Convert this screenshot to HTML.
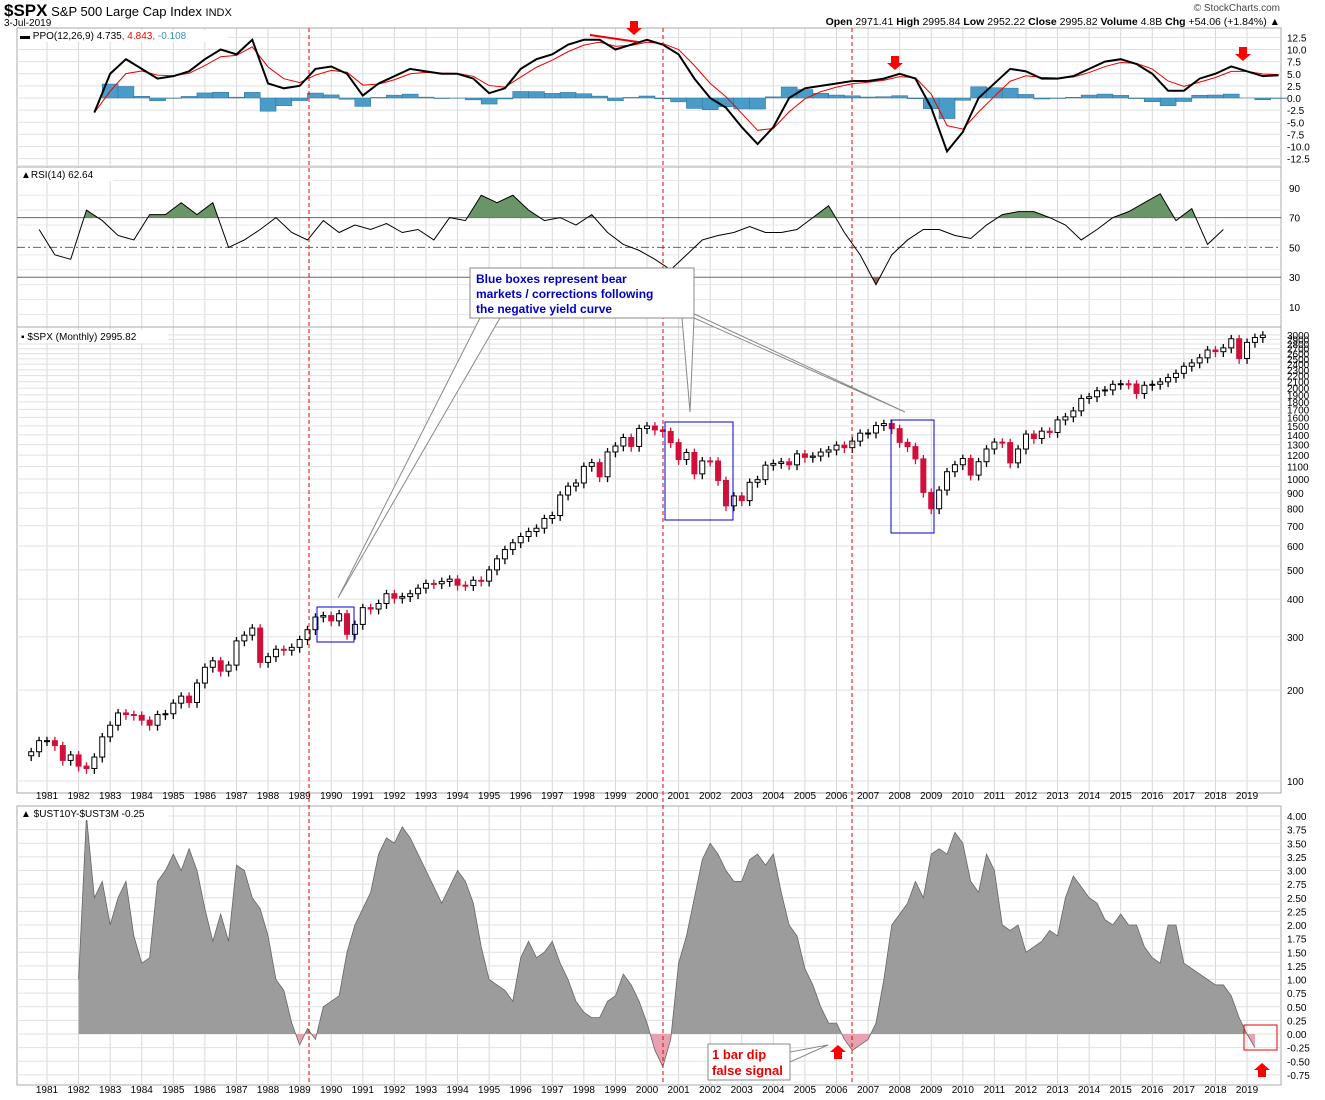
<!DOCTYPE html>
<html><head><meta charset="utf-8"><style>
body{margin:0;background:#fff;width:1325px;height:1100px;overflow:hidden;font-family:"Liberation Sans",sans-serif}
svg{display:block}
text{font-family:"Liberation Sans",sans-serif}
</style></head><body>
<svg id="c" width="1325" height="1100"></svg>
<script>
// ---- data ----
const priceStart = 1980.5; // quarterly closes
const spxCloses = [125,136, 136,131,117,122, 112,110,120,140, 153,168,166,165, 159,153,166,167, 181,191,182,211, 238,250,231,242, 291,304,321,247, 258,273,271,277, 294,317,349,353, 339,358,306,330, 375,371,387,417, 403,408,417,435, 451,450,458,466, 445,444,462,459, 500,544,584,615, 645,670,687,740, 757,885,947,970, 1101,1133,1017,1229, 1286,1372,1282,1469, 1498,1454,1436,1320, 1160,1224,1040,1148, 1147,989,815,879, 848,975,995,1111, 1126,1140,1114,1211, 1180,1191,1228,1248, 1294,1270,1335,1418, 1420,1503,1526,1468, 1322,1280,1166,903, 797,919,1057,1115, 1169,1030,1141,1257, 1325,1320,1131,1257, 1408,1362,1440,1426, 1569,1606,1681,1848, 1872,1960,1972,2058, 2067,2063,1920,2043, 2059,2098,2168,2238, 2362,2423,2519,2673, 2640,2718,2913,2506, 2834,2941,2995];
const ppoStart = 1982.5; // semiannual
const ppoValues = [-3,5,8,6,4,4.5,5.5,8,10,9,12,3,2,2.5,6,6.5,5,0.5,3,4.5,6,5.5,5,5,4,1,2,6,8,9,11,12,12,10,11,12,11,9,4,0,-2,-6,-9.5,-6,0,2,2.5,3,3.5,3.5,4,5,4,-2,-11,-7,0,3,6,5.5,4,4,4.5,6,7.5,8,7,5,1.5,1.5,4,5,6.5,5.5,4.5,4.7];
const rsiStart = 1980.75; // semiannual
const rsiValues = [62,45,42,75,68,58,55,72,72,80,72,80,50,55,62,70,60,55,68,60,65,62,66,60,62,55,70,68,85,80,85,75,68,70,65,72,60,52,48,42,35,45,55,58,60,64,60,60,62,70,78,60,45,25,45,55,62,62,58,56,65,72,74,74,70,65,55,62,70,74,80,86,68,76,52,62];
const spreadStart = 1982.0; // quarterly
const spreadValues = [1.0,4.0,2.5,2.8,2.0,2.5,2.8,1.8,1.3,1.4,2.8,3.0,3.3,3.0,3.4,3.0,2.3,1.7,2.2,1.7,3.1,3.0,2.5,2.3,1.8,1.0,0.8,0.2,-0.2,0.1,-0.1,0.5,0.6,0.7,1.5,2.0,2.3,2.6,3.3,3.6,3.5,3.8,3.6,3.3,3.0,2.7,2.4,2.7,3.0,2.8,2.4,1.6,1.0,0.9,0.8,0.6,1.4,1.7,1.4,1.5,1.7,1.3,1.0,0.6,0.4,0.3,0.3,0.6,0.7,1.1,0.9,0.6,0.2,-0.3,-0.6,-0.1,1.3,1.8,2.5,3.2,3.5,3.3,3.0,2.8,2.8,3.2,3.3,3.1,3.3,2.6,2.0,1.8,1.2,0.9,0.5,0.2,0.2,-0.1,-0.3,-0.2,-0.1,0.2,1.0,2.0,2.2,2.4,2.8,2.5,3.3,3.4,3.3,3.7,3.5,2.8,2.6,3.3,3.0,2.0,1.9,2.0,1.5,1.6,1.7,1.9,1.8,2.5,2.9,2.7,2.5,2.4,2.1,2.0,2.2,2.0,2.0,1.6,1.4,1.3,2.0,2.0,1.3,1.2,1.1,1.0,0.9,0.9,0.7,0.3,0.0,-0.25];
const years = []; for(let y=1981;y<=2019;y++) years.push(y);
const ppoTicks = [12.5,10,7.5,5,2.5,0,-2.5,-5,-7.5,-10,-12.5];
const rsiTicks = [90,70,50,30,10];
const priceTicks = [100,200,300,400,500,600,700,800,900,1000,1100,1200,1300,1400,1500,1600,1700,1800,1900,2000,2100,2200,2300,2400,2500,2600,2700,2800,2900,3000];
const spreadTicks = [4,3.75,3.5,3.25,3,2.75,2.5,2.25,2,1.75,1.5,1.25,1,0.75,0.5,0.25,0,-0.25,-0.5,-0.75];
// ---- scales ----
const L=17,R=1281;
const X=t=>47+(t-1981)*31.58;
const yPPO=v=>98-v*4.85;
const yRSI=v=>307-(v-10)*1.49;
const yP=v=>781-Math.log10(v/100)*302;
const yS=v=>1034-v*54.5;
const svg=document.getElementById('c');
const NS='http://www.w3.org/2000/svg';
function el(tag,attrs,parent){const e=document.createElementNS(NS,tag);for(const k in attrs)e.setAttribute(k,attrs[k]);(parent||svg).appendChild(e);return e;}
function txt(x,y,s,attrs,name){const e=el('text',Object.assign({x:x,y:y},attrs||{}));e.textContent=s;return e;}
const panels=[[28,167,'ppo-panel'],[167,327,'rsi-panel'],[327,793,'price-panel'],[806,1085,'spread-panel']];
panels.forEach(p=>{
  const g=el('g',{});
  
  
  years.forEach(y=>{el('line',{x1:X(y),x2:X(y),y1:p[0],y2:p[1],stroke:'#d8d8d8'},g);});
  el('rect',{x:L,y:p[0],width:R-L,height:p[1]-p[0],fill:'none',stroke:'#aaa'},g);
});
ppoTicks.forEach(v=>{el('line',{x1:L,x2:R,y1:yPPO(v),y2:yPPO(v),stroke:'#e0e0e0'});txt(R+6,yPPO(v)+4,v.toFixed(1),{'font-size':10},'ppo-tick');});
rsiTicks.forEach(v=>{txt(R+8,yRSI(v)+4,String(v),{'font-size':10},'rsi-tick');});
for(let v=0;v<=100;v+=10){el('line',{x1:L,x2:R,y1:yRSI(v+5),y2:yRSI(v+5),stroke:'#e8e8e8'});}
priceTicks.forEach(v=>{el('line',{x1:L,x2:R,y1:yP(v),y2:yP(v),stroke:'#e0e0e0'});txt(R+6,yP(v)+4,String(v),{'font-size':10},'price-tick');});
spreadTicks.forEach(v=>{el('line',{x1:L,x2:R,y1:yS(v),y2:yS(v),stroke:'#e0e0e0'});txt(R+6,yS(v)+4,v.toFixed(2),{'font-size':10},'spread-tick');});
[799,1093].forEach(yy=>years.forEach(y=>txt(X(y),yy,String(y),{'font-size':10,'text-anchor':'middle'},'year-label')));
[70,30].forEach(v=>el('line',{x1:L,x2:R,y1:yRSI(v),y2:yRSI(v),stroke:'#666'}));
el('line',{x1:L,x2:R,y1:yRSI(50),y2:yRSI(50),stroke:'#666','stroke-dasharray':'8,3,2,3'});
// PPO
const ppoT=ppoValues.map((v,i)=>ppoStart+i*0.5);
const sig=[];let s=ppoValues[0];ppoValues.forEach(v=>{s=s+(v-s)*0.55;sig.push(s);});
ppoValues.forEach((v,i)=>{if(i===0)return;const h=(v-sig[i])*0.8;const x=X(ppoT[i]);
  const b=el('rect',{x:x-8,width:16,y:Math.min(yPPO(0),yPPO(h)),height:Math.abs(yPPO(h)-yPPO(0)),fill:'#4a9cc8',stroke:'#2a6f95','stroke-width':0.5});
  });
const sl=el('polyline',{points:sig.map((v,i)=>X(ppoT[i])+','+yPPO(v)).join(' '),fill:'none',stroke:'#e00',"stroke-width":1});

const pl=el('polyline',{points:ppoValues.map((v,i)=>X(ppoT[i])+','+yPPO(v)).join(' '),fill:'none',stroke:'#000',"stroke-width":2});

// RSI
const rsiPts=rsiValues.map((v,i)=>[X(rsiStart+i*0.5),yRSI(v)]);
const clipA=el('clipPath',{id:'ab'});el('rect',{x:L,y:0,width:R-L,height:yRSI(70)},clipA);
const clipB=el('clipPath',{id:'bl'});el('rect',{x:L,y:yRSI(30),width:R-L,height:100},clipB);
const poly=rsiPts.map(p=>p.join(',')).join(' ');
const f1=el('polygon',{points:rsiPts[0][0]+','+yRSI(70)+' '+poly+' '+rsiPts[rsiPts.length-1][0]+','+yRSI(70),fill:'#6a9568','clip-path':'url(#ab)'});

const f2=el('polygon',{points:rsiPts[0][0]+','+yRSI(30)+' '+poly+' '+rsiPts[rsiPts.length-1][0]+','+yRSI(30),fill:'#9a6060','clip-path':'url(#bl)'});

const rl=el('polyline',{points:poly,fill:'none',stroke:'#000','stroke-width':1});

// Price bars
spxCloses.forEach((c,i)=>{const t=priceStart+i*0.25;const o=i?spxCloses[i-1]:c*0.97;const x=X(t);
  const hi=Math.max(o,c)*1.03,lo=Math.min(o,c)*0.96;const up=c>=o;
  const g=el('g',{});
  el('line',{x1:x,x2:x,y1:yP(hi),y2:yP(lo),stroke:up?'#000':'#d0103a','stroke-width':1.3},g);
  el('rect',{x:x-2.5,width:5,y:yP(Math.max(o,c)),height:Math.max(1,Math.abs(yP(o)-yP(c))),fill:up?'#fff':'#d0103a',stroke:up?'#000':'#d0103a','stroke-width':1},g);
});
// Spread area
const sp=spreadValues.map((v,i)=>[X(spreadStart+i*0.25),yS(v)]);
const spoly=sp.map(p=>p.join(',')).join(' ');
const cp=el('clipPath',{id:'pos'});el('rect',{x:L,y:800,width:R-L,height:yS(0)-800},cp);
const cn=el('clipPath',{id:'neg'});el('rect',{x:L,y:yS(0),width:R-L,height:100},cn);
const base=sp[0][0]+','+yS(0)+' '+spoly+' '+sp[sp.length-1][0]+','+yS(0);
const a1=el('polygon',{points:base,fill:'#9c9c9c','clip-path':'url(#pos)'});
const a2=el('polygon',{points:base,fill:'#e7a1b0','clip-path':'url(#neg)'});
const a3=el('polyline',{points:spoly,fill:'none',stroke:'#666','stroke-width':0.8});
[309,663,852].forEach(x=>{const l=el('line',{x1:x,x2:x,y1:28,y2:1085,stroke:'#e00','stroke-dasharray':'4,3'});});
function ptitle(x,y,w,s,name){el('rect',{x:x,y:y-10,width:w,height:13,fill:'#fff'});return txt(x+3,y,s,{'font-size':10},name);}
el('rect',{x:18,y:30,width:210,height:12,fill:'#fff'});
const pt=txt(20,39,'',{'font-size':10},'ppo-title');pt.innerHTML='<tspan font-weight="bold">▬</tspan> PPO(12,26,9) 4.735<tspan fill="#e00">, 4.843</tspan><tspan fill="#3a8fc0">, -0.108</tspan>';
ptitle(18,178,95,'▲RSI(14) 62.64','rsi-title');
ptitle(18,340,150,'▪ $SPX (Monthly) 2995.82','price-title');
ptitle(18,817,150,'▲ $UST10Y-$UST3M -0.25','spread-title');
const h=txt(4,16,'',{'font-size':13},'chart-title');h.innerHTML='<tspan font-weight="bold" font-size="17">$SPX</tspan> S&amp;P 500 Large Cap Index <tspan font-size="11">INDX</tspan>';
txt(4,26,'3-Jul-2019',{'font-size':10},'chart-date');
txt(1280,11,'© StockCharts.com',{'font-size':10,'text-anchor':'end',fill:'#444'},'copyright');
const q=txt(1280,25,'',{'font-size':10.5,'text-anchor':'end'},'quote-summary');
q.innerHTML='<tspan font-weight="bold">Open</tspan> 2971.41 <tspan font-weight="bold">High</tspan> 2995.84 <tspan font-weight="bold">Low</tspan> 2952.22 <tspan font-weight="bold">Close</tspan> 2995.82 <tspan font-weight="bold">Volume</tspan> 4.8B <tspan font-weight="bold">Chg</tspan> +54.06 (+1.84%) ▲';
function box(x,y,w,h,c,name){const r=el('rect',{x:x,y:y,width:w,height:h,fill:'none',stroke:c,'stroke-width':1});}
box(317,607,37,35,'#00c','bear-box-1990');box(665,422,68,98,'#00c','bear-box-2000');box(891,420,43,113,'#00c','bear-box-2008');box(1244,1025,33,25,'#e00','inversion-box-2019');
el('polygon',{points:'480,318 500,318 338,598',fill:'#fff',stroke:'#888'});
el('polygon',{points:'682,318 694,318 690,412',fill:'#fff',stroke:'#888'});
el('polygon',{points:'690,312 694,318 905,412',fill:'#fff',stroke:'#888'});
el('rect',{x:470,y:268,width:224,height:50,fill:'#fff',stroke:'#888'});
txt(476,283,'Blue boxes represent bear',{'font-size':12,'font-weight':'bold',fill:'#00c'},'callout-text');
txt(476,298,'markets / corrections following',{'font-size':12,'font-weight':'bold',fill:'#00c'},'callout-text');
txt(476,313,'the negative yield curve',{'font-size':12,'font-weight':'bold',fill:'#00c'},'callout-text');
el('polygon',{points:'790,1052 790,1062 828,1045',fill:'#fff',stroke:'#888'});
el('rect',{x:708,y:1044,width:82,height:36,fill:'#fff',stroke:'#888'});
txt(712,1059,'1 bar dip',{'font-size':13,'font-weight':'bold',fill:'#e00'},'false-signal-note');
txt(712,1075,'false signal',{'font-size':13,'font-weight':'bold',fill:'#e00'},'false-signal-note');
function arrow(x,y,down,name){const p=down?`${x-4},${y} ${x+4},${y} ${x+4},${y+7} ${x+8},${y+7} ${x},${y+14} ${x-8},${y+7} ${x-4},${y+7}`:`${x-4},${y+14} ${x+4},${y+14} ${x+4},${y+7} ${x+8},${y+7} ${x},${y} ${x-8},${y+7} ${x-4},${y+7}`;const a=el('polygon',{points:p,fill:'#f00'});}
arrow(634,21,true,'sell-arrow-2000');arrow(895,56,true,'sell-arrow-2007');arrow(1243,47,true,'sell-arrow-2018');
arrow(838,1045,false,'up-arrow-2006');arrow(1262,1063,false,'up-arrow-2019');
el('line',{x1:590,y1:35,x2:638,y2:42,stroke:'#e00','stroke-width':2});
</script>
</body></html>
